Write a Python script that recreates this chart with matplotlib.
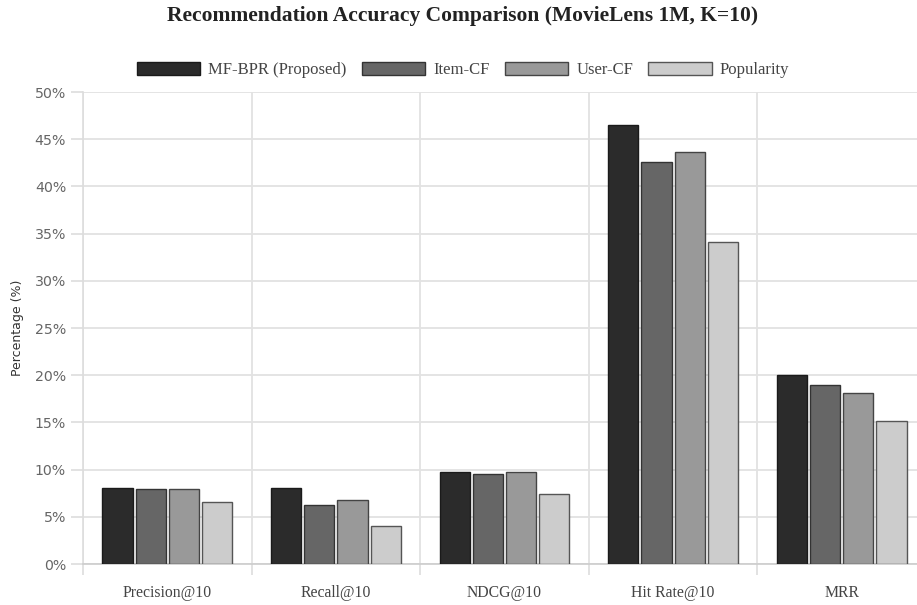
import matplotlib
matplotlib.use("Agg")
import matplotlib.pyplot as plt
import numpy as np

categories = ["Precision@10", "Recall@10", "NDCG@10", "Hit Rate@10", "MRR"]
series_names = ["MF-BPR (Proposed)", "Item-CF", "User-CF", "Popularity"]
mf_bpr = [8.1, 8.1, 9.7, 46.5, 20.0]
item_cf = [7.9, 6.2, 9.5, 42.6, 19.0]
user_cf = [7.9, 6.8, 9.7, 43.6, 18.1]
popularity = [6.6, 4.0, 7.4, 34.1, 15.2]
y_ticks = [0, 5, 10, 15, 20, 25, 30, 35, 40, 45, 50]

series = [mf_bpr, item_cf, user_cf, popularity]
colors = ["#2b2b2b", "#666666", "#999999", "#cccccc"]
edges = ["#1a1a1a", "#333333", "#444444", "#555555"]

W, H = 917, 605
fig = plt.figure(figsize=(W / 100, H / 100), dpi=100)
ax = fig.add_axes([83 / W, 41 / H, 843 / W, 472 / H])

x = np.arange(len(categories))
bw = 0.18
step = 0.197
for i, (vals, c, ec, name) in enumerate(zip(series, colors, edges, series_names)):
    off = (i - 1.5) * step
    ax.bar(x + off, vals, width=bw, color=c, edgecolor=ec, linewidth=1.0,
           label=name, zorder=3)

ax.set_xlim(-0.5, len(categories) - 0.5)
ax.set_ylim(0, 50)
ax.set_yticks(y_ticks)
ax.set_yticklabels([f"{t}%" for t in y_ticks], fontfamily="DejaVu Sans",
                   fontsize=10.2, color="#666666")
ax.set_xticks(np.arange(len(categories) + 1) - 0.5)
ax.set_xticklabels([""] * (len(categories) + 1))
ax.set_xticks(x, minor=True)
ax.set_xticklabels(categories, minor=True, fontfamily="Liberation Serif",
                   fontsize=11.3, color="#444444")
ax.tick_params(axis="x", which="minor", length=0, pad=15)
ax.tick_params(axis="x", which="major", length=8, color="#dddddd", width=1.2)
ax.tick_params(axis="y", length=8.6, color="#dddddd", width=1.2, pad=3.6)

ax.grid(True, which="major", color="#e2e2e2", linewidth=1.3, zorder=0)
ax.set_axisbelow(True)
for s in ["top", "right"]:
    ax.spines[s].set_visible(False)
ax.spines["left"].set_color("#dddddd")
ax.spines["left"].set_linewidth(1.2)
ax.spines["bottom"].set_color("#cccccc")
ax.spines["bottom"].set_linewidth(1.2)

ax.set_ylabel("Percentage (%)", fontfamily="DejaVu Sans", fontsize=9.0,
              color="#333333", labelpad=8)

fig.text(463 / W, 1 - 16 / H, "Recommendation Accuracy Comparison (MovieLens 1M, K=10)",
         ha="center", va="center", fontfamily="Liberation Serif",
         fontweight="bold", fontsize=15.5, color="#222222")

leg = fig.legend(loc="center", bbox_to_anchor=(463 / W, 1 - 70 / H), ncol=4,
                 frameon=False, prop={"family": "Liberation Serif", "size": 12},
                 handlelength=3.8, handleheight=0.8, columnspacing=0.9,
                 handletextpad=0.5)
for t in leg.get_texts():
    t.set_color("#444444")

fig.savefig("out.png", dpi=100)
